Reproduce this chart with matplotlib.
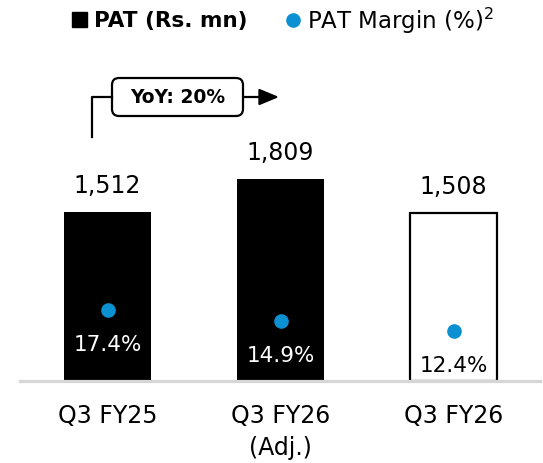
import matplotlib
matplotlib.use("Agg")
import matplotlib.pyplot as plt
from matplotlib.patches import Rectangle, FancyBboxPatch, FancyArrowPatch
from matplotlib.lines import Line2D

# -----------------------------
# Data
# -----------------------------
quarters = ["Q3 FY25", "Q3 FY26\n(Adj.)", "Q3 FY26"]
pat = [1512, 1809, 1508]
margin = [17.4, 14.9, 12.4]
bar_fill = ["black", "black", "white"]
margin_text_color = ["white", "white", "black"]
yoy_label = "YoY: 20%"

BLUE = "#0B90D2"
W, H = 543, 464

plt.rcParams["font.family"] = ["DejaVu Sans"]

fig = plt.figure(figsize=(W / 100, H / 100), dpi=100)


def px(x, y):
    # pixel position from top-left -> inches from bottom-left
    return (x / 100, (H - y) / 100)


# -----------------------------
# Bars + margin dots
# -----------------------------
base_y = 381.5
top_y = 60
ax = fig.add_axes([20 / W, (H - base_y) / H, 520 / W, (base_y - top_y) / H])
x = list(range(len(pat)))

ax.bar(x, pat, width=0.503, color=bar_fill, edgecolor="black",
       linewidth=[0, 0, 1.6], zorder=2)
ax.set_xlim(-0.506, 2.5)
ax.set_ylim(0, 2889)

for i, v in enumerate(pat):
    ax.annotate(f"{v:,}", (i, v), xytext=(0, 27), textcoords="offset pixels",
                ha="center", va="center", fontsize=17, color="black")

ax.axhline(0, color="#D6D6D6", linewidth=2.3, zorder=5, clip_on=False)

ax.set_xticks(x)
ax.set_xticklabels(quarters, fontsize=17, linespacing=1.45)
ax.tick_params(axis="x", length=0, pad=16)
ax.set_yticks([])
for s in ax.spines.values():
    s.set_visible(False)

ax2 = ax.twinx()
ax2.set_ylim(0.74, 77.2)
ax2.plot(x, margin, linestyle="none", marker="o", markersize=9.5,
         color=BLUE, zorder=6)
for i, m in enumerate(margin):
    ax2.annotate(f"{m}%", (i, m), xytext=(0, -34), textcoords="offset pixels",
                 ha="center", va="center", fontsize=15.5,
                 color=margin_text_color[i])
ax2.set_yticks([])
for s in ax2.spines.values():
    s.set_visible(False)

# -----------------------------
# Legend (drawn by hand)
# -----------------------------
t = fig.dpi_scale_trans
sq_x, sq_y = px(72, 28)
fig.add_artist(Rectangle((sq_x, sq_y), 0.15, 0.15, color="black", transform=t))
fig.text(*px(94, 21), "PAT (Rs. mn)", transform=t, fontsize=15.5,
         fontweight="bold", ha="left", va="center")
fig.add_artist(Line2D([293 / 100], [(H - 21) / 100], marker="o", markersize=9.5,
                      color=BLUE, transform=t))
fig.text(*px(307, 21), r"PAT Margin (%)$^{2}$", transform=t, fontsize=16.5,
         ha="left", va="center")

# -----------------------------
# YoY callout
# -----------------------------
fig.add_artist(Line2D([92 / 100, 92 / 100, 112 / 100],
                      [(H - 138) / 100, (H - 98) / 100, (H - 98) / 100],
                      color="black", linewidth=1.6, transform=t))
bx, by = px(112, 117)
fig.add_artist(FancyBboxPatch((bx, by), 1.31, 0.38,
                              boxstyle="round,pad=0,rounding_size=0.07",
                              facecolor="white", edgecolor="black",
                              linewidth=1.6, transform=t))
fig.text(*px(177.5, 98), yoy_label, transform=t, fontsize=13.5,
         fontweight="bold", ha="center", va="center")
fig.add_artist(FancyArrowPatch(px(243, 98), px(279, 98), transform=t,
                               arrowstyle="-|>,head_length=12,head_width=5",
                               mutation_scale=1, shrinkA=0, shrinkB=0,
                               color="black", linewidth=1.6))

fig.savefig("out.png", dpi=100)
